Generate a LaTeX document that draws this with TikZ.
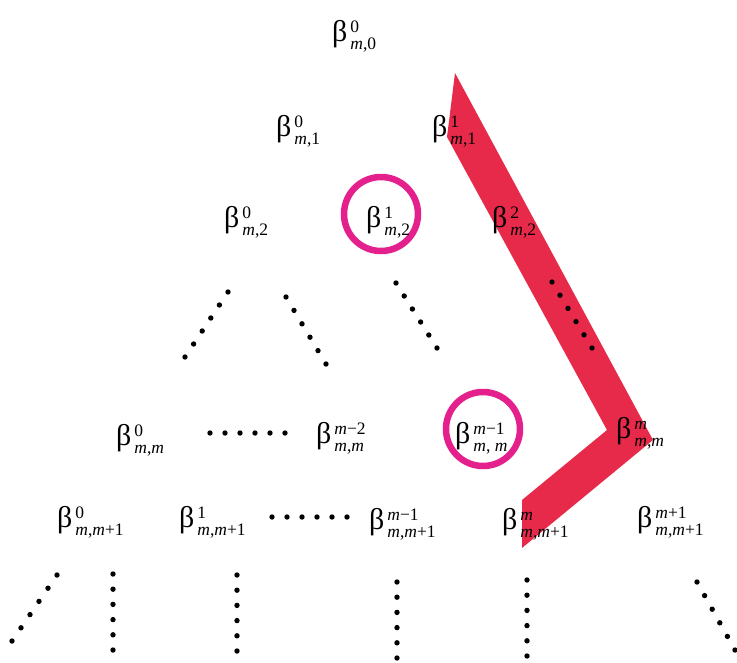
\documentclass[tikz,border=0pt]{standalone}
\usepackage{fontspec}
\usetikzlibrary{calc}
\setmainfont{Liberation Serif}
\newcommand{\mi}{\textit{m}}
\newcommand{\bet}[2]{β\kern3pt\raisebox{-8pt}{\fontsize{17.5}{17.5}\selectfont\vbox{\baselineskip=16.5pt\lineskiplimit=-20pt\hbox{#1}\hbox{#2}}}}
\newcommand{\dotrow}[2]{\foreach \k in {0,...,5} \fill ($(#1)!\k/5!(#2)$) circle (2.7);}
\definecolor{bandred}{RGB}{232,42,74}
\definecolor{ringpink}{RGB}{228,32,140}
\begin{document}
\begin{tikzpicture}[x=1pt,y=-1pt]
    \tikzset{coef/.style={inner sep=0pt, anchor=base west, font=\fontsize{30}{34}\selectfont},
      ring/.style={draw=ringpink, line width=6.5pt}}
    \useasboundingbox (0,0) rectangle (737,662);
    % the red path
    \fill[bandred] (455,73) -- (653,440) -- (522,548) -- (522,500) -- (607,430) -- (447,137) -- cycle;
    % rings
    \draw[ring] (381,214) circle (37);
    \draw[ring] (483,429) circle (37);
    % row 0 to 2
    \node[coef] (b00) at (332,41) {\bet{0}{\mi,0}};
    \node[coef] (b01) at (276,136) {\bet{0}{\mi,1}};
    \node[coef] (b11) at (432,136) {\bet{1}{\mi,1}};
    \node[coef] (b02) at (224,227) {\bet{0}{\mi,2}};
    \node[coef] (b12) at (366,227) {\bet{1}{\mi,2}};
    \node[coef] (b22) at (492,227) {\bet{2}{\mi,2}};
    % row m
    \node[coef] (bm0) at (116,445) {\bet{0}{\mi,\mi}};
    \node[coef] (bm2) at (316,443) {\bet{\mi−2}{\mi,\mi}};
    \node[coef] (bm1) at (455,443) {\bet{\mi−1}{\mi, \mi}};
    \node[coef] (bmm) at (616,438) {\bet{\mi}{\mi,\mi}};
    % row m+1
    \node[coef] (bn0) at (57,527) {\bet{0}{\mi,\mi+1}};
    \node[coef] (bn1) at (179,527) {\bet{1}{\mi,\mi+1}};
    \node[coef] (bn2) at (369,529) {\bet{\mi−1}{\mi,\mi+1}};
    \node[coef] (bnm) at (502,529) {\bet{\mi}{\mi,\mi+1}};
    \node[coef] (bnn) at (637,527) {\bet{\mi+1}{\mi,\mi+1}};
    % dots
    \dotrow{228,292}{185,357}
    \dotrow{286,297}{326,364}
    \dotrow{396,283}{437,348}
    \dotrow{552,282}{592,348}
    \dotrow{210,433}{285,433}
    \dotrow{272,517}{347,517}
    \dotrow{57,575}{12,641}
    \dotrow{113,574}{113,650}
    \dotrow{237,575}{237,651}
    \dotrow{397,582}{397,658}
    \dotrow{527,580}{527,656}
    \dotrow{697,582}{735,650}
\end{tikzpicture}
\end{document}
